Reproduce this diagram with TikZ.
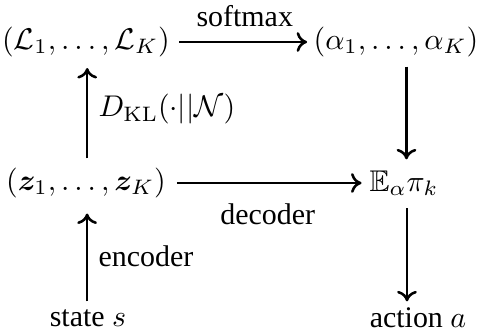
\documentclass[tikz,border=0pt]{standalone}
\usepackage{amsmath,amssymb,bm}
\usepackage[no-math]{fontspec}
\setmainfont{Liberation Serif}
\usetikzlibrary{arrows.meta}
\begin{document}
\begin{tikzpicture}[x=0.334pt,y=-0.334pt,
  lbl/.style={inner sep=0pt},
  arr/.style={line width=0.85pt,-{Computer Modern Rightarrow[length=3.5pt,width=6.6pt]}}]
\useasboundingbox (0,0) rectangle (483,331);
\node[lbl] (L) at (86,42) {$(\mathcal{L}_1,\ldots,\mathcal{L}_K)$};
\node[lbl] (A) at (396,42) {$(\alpha_1,\ldots,\alpha_K)$};
\node[lbl] (Z) at (86,183) {$(\bm{z}_1,\ldots,\bm{z}_K)$};
\node[lbl] (E) at (404,183) {$\mathbb{E}_\alpha\pi_k$};
\node[lbl] (S) at (88,318) {state $s$};
\node[lbl] (Ac) at (418,318) {action $a$};
% horizontal
\draw[arr,shorten <=3pt,shorten >=2pt] (L.east) -- (A.west)
  node[lbl,midway,above=4.5pt,xshift=1pt] {softmax};
\draw[arr,shorten <=3.5pt,shorten >=2.5pt] (Z.east) -- (E.west)
  node[lbl,midway,below=6.5pt] {decoder};
% vertical left
\draw[arr,shorten <=3pt,shorten >=3.5pt] ([xshift=0.4pt]Z.north) -- ([xshift=0.4pt]Z.north |- L.south)
  node[lbl,midway,right=3.4pt,yshift=1pt] {$D_{\mathrm{KL}}(\cdot||\mathcal{N})$};
\draw[arr,shorten <=2.5pt,shorten >=5pt] ([xshift=-0.3pt]S.north) -- ([xshift=-0.3pt]S.north |- Z.south)
  node[lbl,midway,right=3.4pt,yshift=-1pt] {encoder};
% vertical right
\draw[arr,shorten <=3pt,shorten >=3.5pt] ([xshift=3.5pt]A.south) -- ([xshift=3.5pt]A.south |- E.north);
\draw[arr,shorten <=4pt,shorten >=2pt] ([xshift=1pt]E.south) -- ([xshift=1pt]E.south |- Ac.north);
\end{tikzpicture}
\end{document}
